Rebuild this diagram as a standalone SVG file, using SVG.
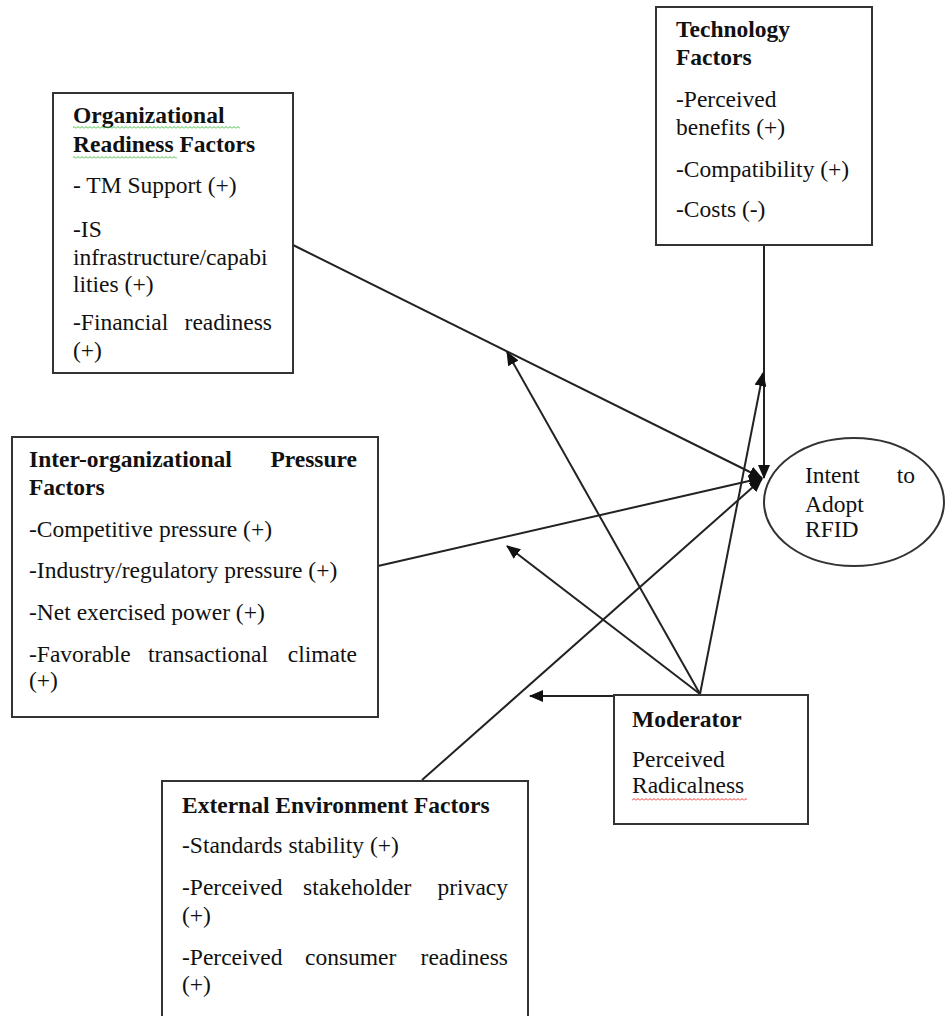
<svg xmlns="http://www.w3.org/2000/svg" width="946" height="1016" viewBox="0 0 946 1016">
<style>
.box{fill:#fff;stroke:#333;stroke-width:2}
.t{font-family:"Liberation Serif","Times New Roman",serif;font-size:23.5px;fill:#111}
.b{font-weight:bold}
.c{stroke:#222;stroke-width:2;fill:none}
</style>
<defs>
<marker id="ah" markerUnits="userSpaceOnUse" markerWidth="14" markerHeight="12" refX="13" refY="6" orient="auto">
<path d="M0,0 L14,6 L0,12 z" fill="#111"/>
</marker>
<pattern id="wg" width="4" height="3" patternUnits="userSpaceOnUse"><path d="M0,2.5 L2,0.5 L4,2.5" stroke="#4b4" stroke-width="1" fill="none"/></pattern>
<pattern id="wr" width="4" height="3" patternUnits="userSpaceOnUse"><path d="M0,2.5 L2,0.5 L4,2.5" stroke="#e33" stroke-width="1" fill="none"/></pattern>
</defs>
<rect width="946" height="1016" fill="#fff"/>

<g id="connectors">
<line class="c" x1="293" y1="245" x2="762" y2="478" marker-end="url(#ah)"/>
<line class="c" x1="378" y1="566" x2="762" y2="478" marker-end="url(#ah)"/>
<line class="c" x1="422" y1="780" x2="762" y2="479" marker-end="url(#ah)"/>
<line class="c" x1="764" y1="245" x2="764" y2="478" marker-end="url(#ah)"/>
<line class="c" x1="700" y1="694" x2="507" y2="352" marker-end="url(#ah)"/>
<line class="c" x1="700" y1="694" x2="507" y2="546" marker-end="url(#ah)"/>
<line class="c" x1="700" y1="694" x2="763" y2="373" marker-end="url(#ah)"/>
<line class="c" x1="700" y1="696" x2="530" y2="696" marker-end="url(#ah)"/>
</g>

<g id="org">
<rect class="box" x="53" y="93" width="240" height="280"/>
<text class="t b" x="73" y="123">Organizational</text>
<text class="t b" x="73" y="152">Readiness Factors</text>
<rect x="73" y="126" width="167" height="3" fill="url(#wg)"/>
<rect x="73" y="156" width="104" height="3" fill="url(#wg)"/>
<text class="t" x="73" y="193">- TM Support (+)</text>
<text class="t" x="73" y="237">-IS</text>
<text class="t" x="73" y="265">infrastructure/capabi</text>
<text class="t" x="73" y="292">lities (+)</text>
<text class="t" x="73" y="330">-Financial</text>
<text class="t" x="272" y="330" text-anchor="end">readiness</text>
<text class="t" x="73" y="358">(+)</text>
</g>

<g id="tech">
<rect class="box" x="656" y="7" width="216" height="238"/>
<text class="t b" x="676" y="37">Technology</text>
<text class="t b" x="676" y="65">Factors</text>
<text class="t" x="676" y="107">-Perceived</text>
<text class="t" x="676" y="135">benefits (+)</text>
<text class="t" x="676" y="177">-Compatibility (+)</text>
<text class="t" x="676" y="217">-Costs (-)</text>
</g>

<g id="inter">
<rect class="box" x="12" y="437" width="366" height="280"/>
<text class="t b" x="29" y="467">Inter-organizational</text>
<text class="t b" x="357" y="467" text-anchor="end">Pressure</text>
<text class="t b" x="29" y="495">Factors</text>
<text class="t" x="29" y="537">-Competitive pressure (+)</text>
<text class="t" x="29" y="578">-Industry/regulatory pressure (+)</text>
<text class="t" x="29" y="620">-Net exercised power (+)</text>
<text class="t" x="29" y="662">-Favorable</text>
<text class="t" x="148" y="662">transactional</text>
<text class="t" x="357" y="662" text-anchor="end">climate</text>
<text class="t" x="29" y="688">(+)</text>
</g>

<g id="external">
<rect class="box" x="162" y="781" width="366" height="245"/>
<text class="t b" x="182" y="813">External Environment Factors</text>
<text class="t" x="182" y="853">-Standards stability (+)</text>
<text class="t" x="182" y="895">-Perceived</text>
<text class="t" x="303" y="895">stakeholder</text>
<text class="t" x="508" y="895" text-anchor="end">privacy</text>
<text class="t" x="182" y="923">(+)</text>
<text class="t" x="182" y="965">-Perceived</text>
<text class="t" x="305" y="965">consumer</text>
<text class="t" x="508" y="965" text-anchor="end">readiness</text>
<text class="t" x="182" y="992">(+)</text>
</g>

<g id="moderator">
<rect class="box" x="614" y="695" width="194" height="129"/>
<text class="t b" x="632" y="727">Moderator</text>
<text class="t" x="632" y="767">Perceived</text>
<text class="t" x="632" y="793">Radicalness</text>
<rect x="632" y="798" width="115" height="3" fill="url(#wr)"/>
</g>

<g id="intent">
<ellipse cx="854" cy="502" rx="90" ry="64" fill="#fff" stroke="#333" stroke-width="2"/>
<text class="t" x="805" y="483">Intent</text>
<text class="t" x="915" y="483" text-anchor="end">to</text>
<text class="t" x="805" y="512">Adopt</text>
<text class="t" x="805" y="537">RFID</text>
</g>
</svg>
